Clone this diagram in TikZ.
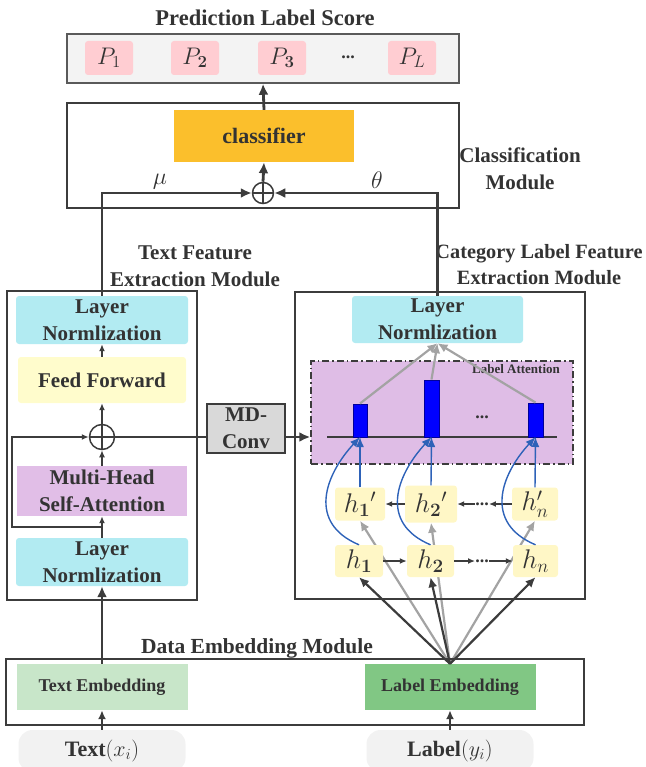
\RequirePackage{fix-cm}
\documentclass[tikz,border=0pt]{standalone}
\usepackage{amsmath}
\usepackage[no-math]{fontspec}
\setmainfont{Liberation Serif}
\usetikzlibrary{arrows.meta,backgrounds,calc}

\definecolor{txt}{HTML}{333333}
\definecolor{dline}{HTML}{3C3C3C}
\definecolor{gline}{HTML}{5A5A5A}
\definecolor{predgray}{HTML}{F3F3F3}
\definecolor{ppink}{HTML}{FFCDD2}
\definecolor{clsorange}{HTML}{FBBF2C}
\definecolor{lncyan}{HTML}{B2EBF2}
\definecolor{ffyellow}{HTML}{FFFCCC}
\definecolor{mhsapurple}{HTML}{E1BEE7}
\definecolor{attpurple}{HTML}{DFBDE6}
\definecolor{hyellow}{HTML}{FFF7C6}
\definecolor{mdgray}{HTML}{D9D9D9}
\definecolor{tegreen}{HTML}{C8E6C9}
\definecolor{legreen}{HTML}{81C784}
\definecolor{pillgray}{HTML}{F2F2F2}
\definecolor{arrowgray}{HTML}{A3A3A3}
\definecolor{curveblue}{HTML}{2E62B8}
\definecolor{barblue}{HTML}{0000FF}

\tikzset{
  sz/.style 2 args={minimum width=#1, minimum height=#2},
  fillbox/.style={rectangle, rounded corners=3pt, inner sep=0pt, align=center},
  module/.style={rectangle, draw=dline, line width=2pt, inner sep=0pt},
  title/.style={align=center, font=\bfseries\fontsize{21}{27}\selectfont},
  mathlbl/.style={font=\fontsize{24}{26}\selectfont, inner sep=0pt},
  hbox/.style={fillbox, fill=hyellow, font=\fontsize{27}{29}\selectfont},
  sumnode/.style={circle, draw=dline, line width=1.5pt, inner sep=0pt,
    minimum size=#1,
    path picture={\draw[dline, line width=1.5pt]
      (path picture bounding box.north) -- (path picture bounding box.south)
      (path picture bounding box.west) -- (path picture bounding box.east);}},
  thickarrow/.style={draw=dline, line width=2.8pt,
    -{Latex[length=11pt,width=10pt]}},
  thickline/.style={draw=dline, line width=2.8pt},
  thinarrow/.style={draw=dline, line width=1.4pt,
    -{Latex[length=7pt,width=6pt]}},
  midarrow/.style={draw=dline, line width=2pt,
    -{Latex[length=9pt,width=8pt]}},
  grayarrow/.style={draw=arrowgray, line width=2.2pt,
    -{Latex[length=10pt,width=9pt]}},
  blackarrow/.style={draw=dline, line width=2.2pt,
    -{Latex[length=10pt,width=9pt]}},
  bluearrow/.style={draw=curveblue, line width=1.4pt,
    -{Latex[length=10pt,width=8pt]}},
  pill/.style={rectangle, rounded corners=14pt, fill=pillgray, inner sep=0pt,
    font=\bfseries\fontsize{22}{24}\selectfont},
  dotsnode/.style={inner sep=0pt, font=\bfseries\fontsize{18}{18}\selectfont},
  embbox/.style={fillbox, rounded corners=0pt, sz={171}{46},
    font=\bfseries\fontsize{18}{20}\selectfont},
}

\begin{document}
\begin{tikzpicture}[x=1pt, y=-1pt,
    every node/.append style={text=txt},
    font=\bfseries\fontsize{21}{27}\selectfont]
\useasboundingbox (0,0) rectangle (645,767);

% ---------- prediction scores ----------
\node[title, font=\bfseries\fontsize{22.5}{27}\selectfont] (predTitle) at (265,18)
  {Prediction Label Score};
\node[rectangle, fill=predgray, draw=gline, line width=1.4pt, sz={392}{49}]
  (pred) at (263,58.5) {};
\node[fillbox, fill=ppink, sz={48}{34}, mathlbl] (p1) at (109,58) {$P_1$};
\node[fillbox, fill=ppink, sz={48}{34}, mathlbl] (p2) at (195,58) {$P_{\mathbf{2}}$};
\node[fillbox, fill=ppink, sz={48}{34}, mathlbl] (p3) at (282,58) {$P_{\mathbf{3}}$};
\node[dotsnode] (pdots) at (348,57) {...};
\node[fillbox, fill=ppink, sz={48}{34}, mathlbl] (pL) at (412,58) {$P_L$};

% ---------- classification module ----------
\node[module, sz={392}{105}] (cls) at (263,155.5) {};
\node[fillbox, rounded corners=0pt, fill=clsorange, sz={180}{52},
  font=\bfseries\fontsize{22}{26}\selectfont] (clf) at (264,136) {classifier};
\node[sumnode=21pt] (sumTop) at (263,193) {};
\node[title] (clsTitle) at (520,169) {Classification\\Module};
\node[mathlbl] (mu) at (160,182) {$\mu$};
\node[mathlbl] (theta) at (377,180) {$\theta$};

\draw[thickarrow] (sumTop.north) -- (clf.south);
\draw[thickarrow] (clf.north) -- (pred.south);

% ---------- text feature extraction module ----------
\node[title] (textTitle) at (195,266) {Text Feature\\Extraction Module};
\node[module, sz={190}{309}] (leftMod) at (102,445.5) {};
\node[fillbox, fill=lncyan, sz={172}{48}] (lnL1) at (102,320) {Layer\\Normlization};
\node[fillbox, fill=ffyellow, sz={168}{46}] (ff) at (102,380) {Feed Forward};
\node[sumnode=25pt] (sumL) at (102,437) {};
\node[fillbox, rounded corners=0pt, fill=mhsapurple, sz={170}{50}] (mhsa) at (102,491)
  {Multi-Head\\Self-Attention};
\node[fillbox, fill=lncyan, sz={172}{48}] (lnL2) at (102,562) {Layer\\Normlization};

\draw[thinarrow] (ff.north) -- (lnL1.south);
\draw[thinarrow] (sumL.north) -- (ff.south);
\draw[thinarrow] (mhsa.north) -- (sumL.south);
\draw[thinarrow] (lnL2.north) -- (mhsa.south);
\coordinate (resTap) at ($(lnL2.north)!0.5!(mhsa.south)$);
\draw[thinarrow] (resTap) -- ++(-90,0) |- (sumL.west);

\draw[thickline, -{Latex[length=11pt,width=10pt]}] (lnL1.north) |- (sumTop.west);

% ---------- MD-Conv bridge ----------
\node[rectangle, fill=mdgray, draw=dline, line width=1.3pt, sz={78}{49}, align=center]
  (mdc) at (246,428.5) {MD-\\Conv};
\draw[thickline] (sumL.east) -- (mdc.west |- sumL.east);

% ---------- category label feature extraction module ----------
\node[title, font=\bfseries\fontsize{20.3}{26}\selectfont] (catTitle) at (539,265)
  {Category Label Feature\\Extraction Module};
\node[module, sz={290}{307}] (rightMod) at (440,445.5) {};
\node[fillbox, fill=lncyan, sz={171}{47}] (lnR) at (437.5,319.5) {Layer\\Normlization};
\node[rectangle, fill=attpurple, draw=dline, line width=1.5pt,
  dash pattern=on 7pt off 3pt on 1.5pt off 3pt,
  sz={262}{103}] (att) at (442,412.5) {};
\node[font=\bfseries\fontsize{13}{14}\selectfont, inner sep=0pt] (attTitle)
  at (516,369) {Label Attention};

\draw[thickarrow] (mdc.east |- sumL.east) -- (att.west |- sumL.east);
\draw[thickline, -{Latex[length=11pt,width=10pt]}] (lnR.north) |- (sumTop.east);

\coordinate (baseL) at (327,437);
\coordinate (baseR) at (557,437);
\draw[dline, line width=1.4pt] (baseL) -- (baseR);
\node[rectangle, fill=barblue, draw=blue!60!black, line width=0.5pt,
  inner sep=0pt, sz={14}{33}, anchor=south] (b1) at (360,437) {};
\node[rectangle, fill=barblue, draw=blue!60!black, line width=0.5pt,
  inner sep=0pt, sz={15}{57}, anchor=south] (b2) at (431.5,437) {};
\node[rectangle, fill=barblue, draw=blue!60!black, line width=0.5pt,
  inner sep=0pt, sz={15}{34}, anchor=south] (b3) at (535.5,437) {};
\node[dotsnode] (attDots) at (482,417) {...};

\draw[grayarrow] (b1.north) -- (lnR.south);
\draw[grayarrow] (b2.north) -- (lnR.south);
\draw[grayarrow] (b3.north) -- (lnR.south);

% hidden states
\node[hbox, sz={50}{33}] (h1p) at (360,504) {$h_{\mathbf{1}}{}'$};
\node[hbox, sz={52}{37}] (h2p) at (431,504) {$h_{\mathbf{2}}{}'$};
\node[hbox, sz={46}{33}] (hnp) at (535,504) {$h'_n$};
\node[dotsnode] (hpDots) at (482,504) {...};
\node[hbox, sz={48}{32}] (h1) at (359,561) {$h_{\mathbf{1}}$};
\node[hbox, sz={47}{32}] (h2) at (430.5,561) {$h_{\mathbf{2}}$};
\node[hbox, sz={45}{32}] (hn) at (535.5,561) {$h_n$};
\node[dotsnode] (hDots) at (482,561) {...};

\draw[thinarrow] (h1.east) -- (h2.west);
\draw[thinarrow] (h2.east) -- (hDots.west);
\draw[thinarrow] (hDots.east) -- (hn.west);
\draw[thinarrow] (h2p.west) -- (h1p.east);
\draw[thinarrow] (hnp.west) -- (hpDots.east);
\draw[thinarrow] (hpDots.west) -- (h2p.east);

\draw[bluearrow] (h1p.north) -- (b1.south);
\draw[bluearrow] (h2p.north) -- (b2.south);
\draw[bluearrow] (hnp.north) -- (b3.south);
\draw[bluearrow] (h1.north) .. controls +(-52,-22) and +(-35,38) .. (b1.south);
\draw[bluearrow] (h2.north) .. controls +(-52,-22) and +(-35,38) .. (b2.south);
\draw[bluearrow] (hn.north) .. controls +(-52,-22) and +(-35,38) .. (b3.south);

% ---------- data embedding module ----------
\node[title, font=\bfseries\fontsize{21.5}{27}\selectfont] (dataTitle) at (257,648)
  {Data Embedding Module};
\node[module, sz={578}{66}] (emb) at (295,692) {};
\node[embbox, fill=tegreen] (textEmb) at (102,687) {Text Embedding};
\node[embbox, fill=legreen] (labEmb) at (450,687) {Label Embedding};
\node[pill, sz={167}{42}] (textIn) at (102,751) {Text$(x_i)$};
\node[pill, sz={167}{42}] (labIn) at (450,751) {Label$(y_i)$};

\draw[midarrow] (textIn.north) -- (textEmb.south);
\draw[midarrow] (labIn.north) -- (labEmb.south);
\draw[thickarrow] (textEmb.north) -- (lnL2.south);

\begin{scope}[on background layer]
  \draw[grayarrow] (labEmb.north) -- (h1p.south);
  \draw[grayarrow] (labEmb.north) -- (h2p.south);
  \draw[grayarrow] (labEmb.north) -- (hnp.south);
\end{scope}
\draw[blackarrow] (labEmb.north) -- (h1.south);
\draw[blackarrow] (labEmb.north) -- (h2.south);
\draw[blackarrow] (labEmb.north) -- (hn.south);

\end{tikzpicture}
\end{document}
